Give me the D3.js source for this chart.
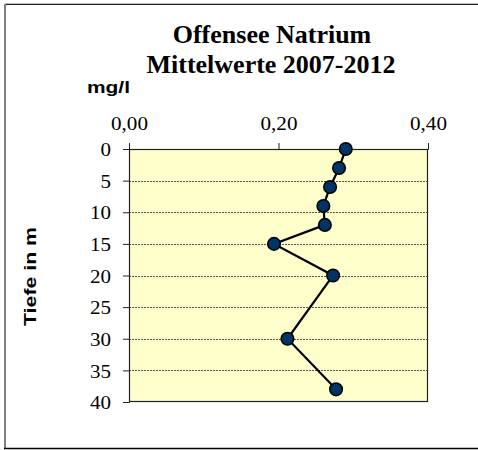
<!DOCTYPE html>
<html><head><meta charset="utf-8">
<script src="https://cdn.jsdelivr.net/npm/d3@7"></script>
<style>html,body{margin:0;padding:0;background:#fff;}</style>
</head><body>
<script>
const depths = [0, 3, 6, 9, 12, 15, 20, 30, 38];
const values = [0.29, 0.281, 0.269, 0.260, 0.262, 0.194, 0.273, 0.212, 0.277];
const xTicks = [0, 0.2, 0.4];
const yTicks = [0, 5, 10, 15, 20, 25, 30, 35, 40];
const title1 = "Offensee Natrium";
const title2 = "Mittelwerte 2007-2012";
const unitLabel = "mg/l";
const yLabel = "Tiefe in m";

const W = 478, H = 450;
const svg = d3.select("body").append("svg").attr("width", W).attr("height", H);

// outer frame
svg.append("line").attr("x1",5).attr("x2",478).attr("y1",3.5).attr("y2",3.5).attr("stroke","#bbb").attr("stroke-width",1);
svg.append("line").attr("x1",5).attr("x2",478).attr("y1",4.5).attr("y2",4.5).attr("stroke","#222").attr("stroke-width",1);
svg.append("line").attr("x1",5).attr("x2",5).attr("y1",4).attr("y2",448).attr("stroke","#808080").attr("stroke-width",2);
svg.append("line").attr("x1",4).attr("x2",478).attr("y1",448.5).attr("y2",448.5).attr("stroke","#000").attr("stroke-width",1.5);

const L = 129, R = 428, T = 149, B = 402;
const x = d3.scaleLinear().domain([0, 0.4]).range([L, R]);
const y = d3.scaleLinear().domain([0, 40]).range([T, B]);

svg.append("rect").attr("x",L).attr("y",T).attr("width",R-L).attr("height",B-T).attr("fill","#FFFFCC");

// gridlines
svg.append("g").selectAll("line").data(yTicks.filter(d=>d>0 && d<40)).join("line")
  .attr("x1",L).attr("x2",R).attr("y1",d=>Math.round(y(d))+0.5).attr("y2",d=>Math.round(y(d))+0.5)
  .attr("stroke","#555").attr("stroke-width",1).attr("stroke-dasharray","2,1");

// plot border
svg.append("rect").attr("x",L+0.5).attr("y",T+0.5).attr("width",R-L-1).attr("height",B-T-1)
  .attr("fill","none").attr("stroke","#222").attr("stroke-width",1.2);

const serif = "'Liberation Serif','Times New Roman',serif";
const sans = "'Liberation Sans',Arial,sans-serif";
const fmt = d => d.toFixed(2).replace(".", ",");
const xAxis = svg.append("g").attr("transform",`translate(0,${T})`)
  .call(d3.axisTop(x).tickValues(xTicks).tickFormat(fmt).tickSize(6).tickPadding(13));
const yAxis = svg.append("g").attr("transform",`translate(${L},0)`)
  .call(d3.axisLeft(y).tickValues(yTicks).tickSize(6).tickPadding(12));
[xAxis, yAxis].forEach(g => {
  g.select(".domain").attr("stroke","#222");
  g.selectAll(".tick line").attr("stroke","#222");
  g.selectAll(".tick text").attr("font-family",serif)
    .attr("font-size","19px").attr("fill","#000");
});
xAxis.selectAll(".tick text").attr("textLength",37).attr("lengthAdjust","spacingAndGlyphs");
yAxis.selectAll(".tick text").attr("dy","0.35em")
  .attr("textLength",d => String(d).length*10.5).attr("lengthAdjust","spacingAndGlyphs");

// line + markers
const pts = depths.map((d,i)=>({d, v: values[i]}));
svg.append("path").datum(pts)
  .attr("d", d3.line().x(p=>x(p.v)).y(p=>y(p.d)))
  .attr("fill","none").attr("stroke","#000").attr("stroke-width",2.2);
svg.append("g").selectAll("circle").data(pts).join("circle")
  .attr("cx",p=>x(p.v)).attr("cy",p=>y(p.d)).attr("r",6.3)
  .attr("fill","#003366").attr("stroke","#000").attr("stroke-width",1.5);

// titles
svg.append("text").attr("x",272).attr("y",43).attr("text-anchor","middle")
  .attr("font-family",serif).attr("font-weight","bold")
  .attr("font-size","26px").text(title1);
svg.append("text").attr("x",271).attr("y",73).attr("text-anchor","middle")
  .attr("font-family",serif).attr("font-weight","bold")
  .attr("font-size","26px").text(title2);
svg.append("text").attr("x",87).attr("y",93)
  .attr("font-family",sans).attr("font-weight","bold")
  .attr("font-size","17px").attr("textLength",43).attr("lengthAdjust","spacingAndGlyphs").text(unitLabel);
svg.append("text").attr("transform","translate(36,276.5) rotate(-90)").attr("text-anchor","middle")
  .attr("font-family",sans).attr("font-weight","bold")
  .attr("font-size","17px").attr("textLength",99).attr("lengthAdjust","spacingAndGlyphs").text(yLabel);
</script>
</body></html>
